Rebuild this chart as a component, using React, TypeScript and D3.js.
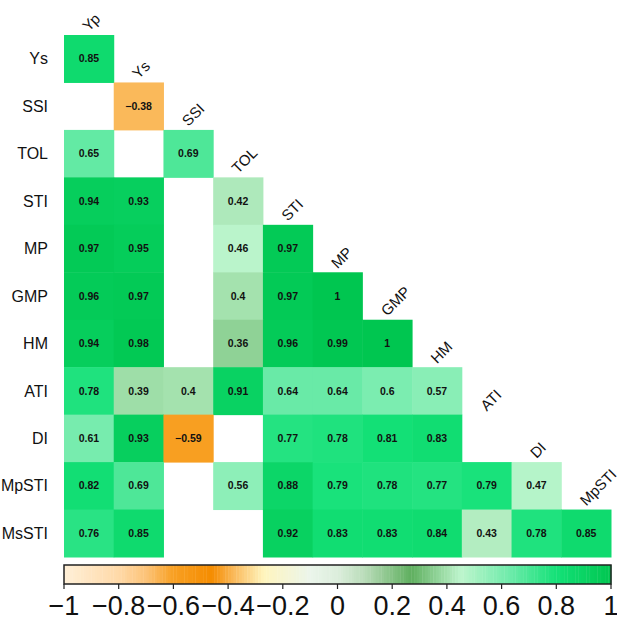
import React from "react";
import { scaleBand, scaleLinear, interpolateRgb, range } from "d3";

const rowVars = ["Ys", "SSI", "TOL", "STI", "MP", "GMP", "HM", "ATI", "DI", "MpSTI", "MsSTI"];
const colVars = ["Yp", "Ys", "SSI", "TOL", "STI", "MP", "GMP", "HM", "ATI", "DI", "MpSTI"];

// null = not significant (left blank)
const corrYs = [0.85];
const corrSSI = [null, -0.38];
const corrTOL = [0.65, null, 0.69];
const corrSTI = [0.94, 0.93, null, 0.42];
const corrMP = [0.97, 0.95, null, 0.46, 0.97];
const corrGMP = [0.96, 0.97, null, 0.4, 0.97, 1];
const corrHM = [0.94, 0.98, null, 0.36, 0.96, 0.99, 1];
const corrATI = [0.78, 0.39, 0.4, 0.91, 0.64, 0.64, 0.6, 0.57];
const corrDI = [0.61, 0.93, -0.59, null, 0.77, 0.78, 0.81, 0.83, null];
const corrMpSTI = [0.82, 0.69, null, 0.56, 0.88, 0.79, 0.78, 0.77, 0.79, 0.47];
const corrMsSTI = [0.76, 0.85, null, null, 0.92, 0.83, 0.83, 0.84, 0.43, 0.78, 0.85];

const matrix: (number | null)[][] = [
  corrYs, corrSSI, corrTOL, corrSTI, corrMP, corrGMP, corrHM, corrATI, corrDI, corrMpSTI, corrMsSTI,
];

const legendTicks = [-1, -0.8, -0.6, -0.4, -0.2, 0, 0.2, 0.4, 0.6, 0.8, 1];

const colorStops = [-1, -0.8, -0.7, -0.6, -0.46, -0.38, -0.27, -0.1, 0, 0.1, 0.27, 0.45, 0.63, 0.8, 1];
const colorRange = [
  "#fff0d8", "#ffd9a8", "#fcc378", "#f8a023", "#f58c00", "#fab95a", "#fff5be",
  "#ebf5eb", "#dceedc", "#b9dcb9", "#5faf5f", "#bef5cd", "#6eebaa", "#14e178", "#00c650",
];

const fmt = (v: number) => String(v).replace("-", "\u2212");

export default function App() {
  const x = scaleBand<string>().domain(colVars).range([64, 611]);
  const y = scaleBand<string>().domain(rowVars).range([35, 557]);
  const color = scaleLinear<string>().domain(colorStops).range(colorRange).interpolate(interpolateRgb);
  const lx = scaleLinear().domain([-1, 1]).range([64, 611]);
  const barTop = 565;
  const barH = 19;
  const nBands = 200;
  const font = "Liberation Sans, Arial, sans-serif";

  const cells = matrix.flatMap((row, i) =>
    row.map((v, j) => ({ r: rowVars[i], c: colVars[j], v }))
  );

  return (
    <svg width={617} height={617} style={{ position: "absolute", left: 0, top: 0 }} fontFamily={font}>
      <rect width={617} height={617} fill="#fff" />
      {cells.map((d) =>
        d.v === null ? null : (
          <g key={d.r + d.c}>
            <rect
              x={x(d.c)}
              y={y(d.r)}
              width={x.bandwidth() + 0.5}
              height={y.bandwidth() + 0.5}
              fill={color(d.v)}
            />
            <text
              x={x(d.c)! + x.bandwidth() / 2}
              y={y(d.r)! + y.bandwidth() / 2}
              dy="0.35em"
              textAnchor="middle"
              fontSize={10.5}
              fontWeight="bold"
              fill="#111"
            >
              {fmt(d.v)}
            </text>
          </g>
        )
      )}
      {rowVars.map((r) => (
        <text key={r} x={48} y={y(r)! + y.bandwidth() / 2} dy="0.35em" textAnchor="end" fontSize={16} fill="#111">
          {r}
        </text>
      ))}
      {colVars.map((c, j) => {
        const cx = x(c)! + x.bandwidth() / 2;
        const cy = y(rowVars[j])! - 3;
        return (
          <text key={c} transform={`translate(${cx},${cy}) rotate(-45)`} fontSize={15} fill="#111">
            {c}
          </text>
        );
      })}
      {range(nBands).map((k) => {
        const v0 = -1 + (2 * k) / nBands;
        const v1 = -1 + (2 * (k + 1)) / nBands;
        return (
          <rect
            key={k}
            x={lx(v0)}
            y={barTop}
            width={lx(v1) - lx(v0) + 0.4}
            height={barH}
            fill={color((v0 + v1) / 2)}
          />
        );
      })}
      <rect x={64} y={barTop} width={547} height={barH} fill="none" stroke="#222" strokeWidth={1.5} />
      {legendTicks.map((t) => (
        <g key={t}>
          <line x1={lx(t)} x2={lx(t)} y1={barTop + barH} y2={barTop + barH + 5} stroke="#222" strokeWidth={1.2} />
          <text x={lx(t)} y={615} textAnchor="middle" fontSize={27} fill="#111">
            {fmt(t)}
          </text>
        </g>
      ))}
    </svg>
  );
}
